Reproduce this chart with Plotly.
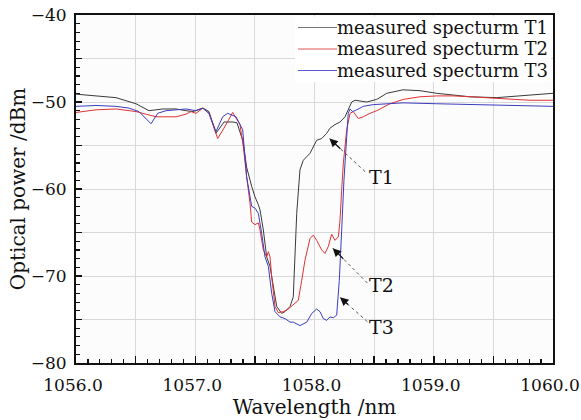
import plotly.graph_objects as go

# ---------------- data ----------------
t1_x = [1056.000, 1056.168, 1056.335, 1056.503, 1056.612, 1056.730, 1056.839, 1056.922, 1056.981,
        1057.065, 1057.115, 1057.174, 1057.241, 1057.317, 1057.350, 1057.400, 1057.431, 1057.473,
        1057.501, 1057.529, 1057.543, 1057.571, 1057.599, 1057.627, 1057.655, 1057.683, 1057.725,
        1057.753, 1057.795, 1057.822, 1057.851, 1057.878, 1057.906, 1057.962, 1058.018, 1058.060,
        1058.102, 1058.130, 1058.172, 1058.214, 1058.256, 1058.283, 1058.312, 1058.340, 1058.438,
        1058.522, 1058.606, 1058.742, 1058.885, 1059.025, 1059.161, 1059.304, 1059.528, 1059.639,
        1059.807, 1060.000]
t1_y = [-49.1, -49.3, -49.5, -50.2, -51.0, -50.8, -50.8, -51.0, -51.1,
        -50.7, -51.1, -53.6, -52.3, -52.3, -52.4, -54.5, -57.5, -59.7,
        -60.9, -61.8, -62.4, -64.7, -67.8, -68.9, -71.2, -73.5, -74.3,
        -74.1, -73.5, -72.4, -62.8, -57.8, -56.7, -55.9, -54.4, -54.2,
        -53.6, -53.0, -52.6, -52.3, -51.7, -50.9, -50.0, -49.8, -50.0,
        -49.7, -49.0, -48.6, -48.7, -49.0, -49.2, -49.4, -49.5, -49.4,
        -49.2, -49.0]

t2_x = [1056.000, 1056.168, 1056.335, 1056.503, 1056.671, 1056.839, 1056.922, 1056.964, 1057.006,
        1057.065, 1057.115, 1057.188, 1057.241, 1057.314, 1057.375, 1057.403, 1057.431, 1057.459,
        1057.473, 1057.501, 1057.529, 1057.543, 1057.571, 1057.599, 1057.613, 1057.627, 1057.641,
        1057.669, 1057.696, 1057.738, 1057.780, 1057.822, 1057.864, 1057.893, 1057.920, 1057.962,
        1057.990, 1058.018, 1058.060, 1058.088, 1058.116, 1058.144, 1058.172, 1058.200, 1058.214,
        1058.228, 1058.242, 1058.270, 1058.298, 1058.325, 1058.367, 1058.409, 1058.465, 1058.522,
        1058.633, 1058.745, 1058.885, 1059.025, 1059.164, 1059.304, 1059.528, 1059.639, 1059.807,
        1060.000]
t2_y = [-51.2, -50.9, -50.8, -51.1, -51.7, -51.7, -51.4, -51.1, -51.3,
        -50.7, -51.3, -54.2, -53.0, -51.2, -52.6, -55.1, -58.6, -61.6,
        -63.8, -64.1, -63.9, -64.7, -67.0, -67.8, -67.2, -67.8, -70.1,
        -73.5, -74.2, -74.1, -73.8, -73.3, -72.8, -70.5, -68.2, -65.7,
        -65.3, -65.9, -67.0, -67.4, -66.6, -65.2, -65.9, -65.5, -63.6,
        -60.1, -57.0, -53.2, -51.3, -51.1, -51.9, -51.7, -51.3, -51.0,
        -50.2, -49.7, -49.4, -49.3, -49.3, -49.4, -49.6, -49.7, -49.8,
        -49.8]

t3_x = [1056.000, 1056.168, 1056.335, 1056.444, 1056.528, 1056.587, 1056.629, 1056.685, 1056.755,
        1056.839, 1056.922, 1057.006, 1057.062, 1057.115, 1057.174, 1057.230, 1057.272, 1057.342,
        1057.398, 1057.431, 1057.473, 1057.501, 1057.529, 1057.557, 1057.585, 1057.613, 1057.641,
        1057.669, 1057.711, 1057.753, 1057.795, 1057.822, 1057.878, 1057.935, 1057.977, 1058.018,
        1058.046, 1058.074, 1058.102, 1058.130, 1058.158, 1058.186, 1058.208, 1058.228, 1058.247,
        1058.270, 1058.283, 1058.298, 1058.320, 1058.354, 1058.409, 1058.493, 1058.606, 1058.742,
        1059.025, 1059.304, 1059.581, 1060.000]
t3_y = [-50.5, -50.4, -50.5, -50.7, -51.1, -51.9, -52.5, -51.3, -51.0,
        -50.9, -50.8, -51.0, -50.7, -51.3, -53.4, -51.7, -51.3, -51.7,
        -53.2, -58.6, -62.0, -62.2, -62.8, -65.1, -67.8, -68.9, -72.0,
        -74.1, -74.7, -74.9, -75.3, -75.3, -75.7, -75.3, -74.3, -73.8,
        -74.1, -74.9, -75.1, -74.7, -74.8, -74.5, -70.5, -64.7, -59.0,
        -54.0, -51.3, -50.8, -51.1, -50.9, -50.5, -50.3, -50.2, -50.1,
        -50.2, -50.3, -50.4, -50.5]

series_names = ["measured specturm T1", "measured specturm T2", "measured specturm T3"]

x_tickvals = [1056.0, 1056.5, 1057.0, 1057.5, 1058.0, 1058.5, 1059.0, 1059.5, 1060.0]
x_ticktext = ["1056.0", "", "1057.0", "", "1058.0", "", "1059.0", "", "1060.0"]
y_tickvals = [-80, -75, -70, -65, -60, -55, -50, -45, -40]
y_ticktext = ["\u221280", "", "\u221270", "", "\u221260", "", "\u221250", "", "\u221240"]

# annotation labels: (text, text_x, text_y, tail_x, tail_y, head_x, head_y)
callouts = [
    ("T1", 1058.56, -58.6, 1058.424, -58.0, 1058.125, -54.2),
    ("T2", 1058.56, -71.0, 1058.443, -70.8, 1058.153, -66.8),
    ("T3", 1058.56, -75.9, 1058.443, -75.25, 1058.214, -72.45),
]

# ---------------- figure ----------------
FONT = "DejaVu Serif"
colors = ["#3a3a3a", "#e03232", "#3c3cc0"]
legend_line_colors = ["#777777", "#e05555", "#5a5ad0"]

fig = go.Figure()
for xs, ys, name, c in zip([t1_x, t2_x, t3_x], [t1_y, t2_y, t3_y], series_names, colors):
    fig.add_trace(go.Scatter(x=xs, y=ys, mode="lines", name=name,
                             line=dict(color=c, width=1), showlegend=False,
                             hoverinfo="skip"))

for text, tx, ty, x0, y0, x1, y1 in callouts:
    fig.add_shape(type="line", x0=x0, y0=y0, x1=x1, y1=y1, xref="x", yref="y",
                  line=dict(color="#555555", width=1, dash="dot"))
    fig.add_annotation(x=x1, y=y1, xref="x", yref="y", text="", showarrow=True,
                       arrowhead=2, arrowsize=1.4, arrowwidth=1.2, arrowcolor="#111111",
                       ax=(x0 - x1) * 119.25 * 0.35, ay=-(y0 - y1) * 8.7 * 0.35, standoff=0)
    fig.add_annotation(x=tx, y=ty, xref="x", yref="y", text=text, showarrow=False,
                       font=dict(family=FONT, size=19, color="#111111"))

# legend box (drawn by hand for compact row spacing)
fig.add_shape(type="rect", xref="paper", yref="paper", x0=0.459, x1=0.9958, y0=0.8075, y1=0.9957,
              line=dict(width=0), fillcolor="white", layer="above")
legend_rows_y = [0.9641, 0.9023, 0.8405]
for name, c, yy in zip(series_names, legend_line_colors, legend_rows_y):
    fig.add_shape(type="line", xref="paper", yref="paper", x0=0.4654, x1=0.5472, y0=yy, y1=yy,
                  line=dict(color=c, width=1.2), layer="above")
    fig.add_annotation(x=0.543, y=yy, xref="paper", yref="paper", text=name, showarrow=False,
                       xanchor="left", yanchor="middle",
                       font=dict(family=FONT, size=18, color="#111111"))

fig.update_layout(
    width=581, height=420,
    margin=dict(l=76, r=28, t=15, b=57),
    paper_bgcolor="white", plot_bgcolor="#fcfcfc",
    font=dict(family=FONT, size=17, color="#111111"),
    showlegend=False, hovermode=False,
)

fig.update_xaxes(
    range=[1056, 1060], tickmode="array", tickvals=x_tickvals, ticktext=x_ticktext,
    showgrid=True, gridcolor="#d9d9d9", gridwidth=1, zeroline=False,
    showline=True, linecolor="#111111", linewidth=2, mirror=True,
    ticks="inside", ticklen=7, tickwidth=1.5, tickcolor="#111111",
    minor=dict(tick0=1056, dtick=0.1, ticks="inside", ticklen=4, tickwidth=1.2,
               tickcolor="#111111", showgrid=False),
    ticklabelstandoff=6, ticklabelshift=-3, automargin=False, showspikes=False,
    tickfont=dict(family=FONT, size=17, color="#111111"),
    title=dict(text="Wavelength /nm", font=dict(family=FONT, size=20, color="#111111"),
               standoff=2),
)
fig.update_yaxes(
    range=[-80, -40], tickmode="array", tickvals=y_tickvals, ticktext=y_ticktext,
    showgrid=True, gridcolor="#d9d9d9", gridwidth=1, zeroline=False,
    showline=True, linecolor="#111111", linewidth=2, mirror=True,
    ticks="inside", ticklen=6, tickwidth=1.5, tickcolor="#111111",
    minor=dict(tick0=-80, dtick=1, ticks="inside", ticklen=4, tickwidth=1.2,
               tickcolor="#111111", showgrid=False),
    ticklabelstandoff=4, automargin=False, showspikes=False,
    tickfont=dict(family=FONT, size=17, color="#111111"),
    title=dict(text="Optical power /dBm", font=dict(family=FONT, size=20, color="#111111"),
               standoff=0),
)

fig.write_html("out.html", config={"displayModeBar": False, "staticPlot": True},
               post_script="document.body.style.margin='0px';")
